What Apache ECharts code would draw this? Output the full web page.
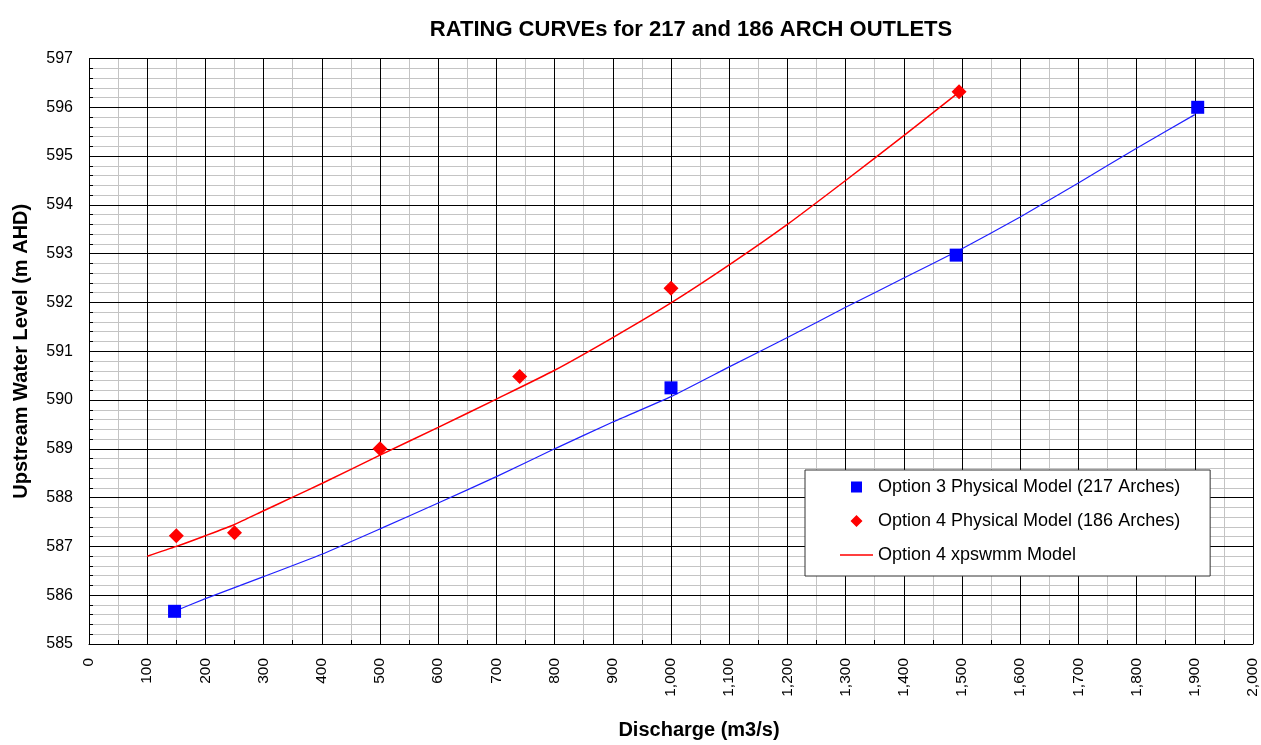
<!DOCTYPE html>
<html>
<head>
<meta charset="utf-8">
<script src="https://cdn.jsdelivr.net/npm/echarts@6/dist/echarts.min.js"></script>
<style>
html,body{margin:0;padding:0;background:#fff;}
#chart{width:1261px;height:745px;}
</style>
</head>
<body>
<div id="chart"></div>
<script>
// ---- data ----
const titleText = 'RATING CURVEs for 217 and 186 ARCH OUTLETS';
const xName = 'Discharge (m3/s)';
const yName = 'Upstream Water Level (m AHD)';
const seriesNames = ['Option 3 Physical Model (217 Arches)', 'Option 4 Physical Model (186 Arches)', 'Option 4 xpswmm Model'];

// Option 3 physical model (blue squares)
const opt3X = [147, 1000, 1490, 1905];
const opt3Y = [585.67, 590.25, 592.97, 596.0];
// Option 3 curve (blue line, not in legend)
const opt3LineX = [147, 200, 300, 400, 500, 600, 700, 800, 900, 1000, 1100, 1200, 1300, 1400, 1500, 1600, 1700, 1800, 1900];
const opt3LineY = [585.67, 585.93, 586.38, 586.84, 587.36, 587.89, 588.43, 589.0, 589.55, 590.07, 590.68, 591.28, 591.9, 592.5, 593.1, 593.75, 594.45, 595.16, 595.85];
// Option 4 physical model (red diamonds)
const opt4X = [150, 250, 500, 740, 1000, 1495];
const opt4Y = [587.22, 587.28, 589.0, 590.48, 592.29, 596.32];
// Option 4 xpswmm model (red line)
const xpX = [100, 150, 200, 250, 300, 350, 400, 500, 600, 700, 800, 900, 1000, 1100, 1200, 1300, 1400, 1495];
const xpY = [586.8, 587.0, 587.22, 587.45, 587.73, 588.01, 588.29, 588.87, 589.44, 590.02, 590.61, 591.28, 591.99, 592.77, 593.6, 594.5, 595.42, 596.31];

// axis ranges / ticks
const xMin = 0, xMax = 2000, xStep = 100;
const yMin = 585, yMax = 597, yStep = 1;

const pairs = (xs, ys) => xs.map((x, i) => [x, ys[i]]);
const FONT = 'Liberation Sans, Arial, sans-serif';
const fmtX = v => String(v).replace(/\B(?=(\d{3})+(?!\d))/g, ',');

// legend icons: tiny degenerate corner marks fix the 33x12 icon box, so shapes keep their size
const BOX = 'M0,0L0.01,0L0,0.01Z M33,12L32.99,12L33,11.99Z ';
const squareIcon = 'path://' + BOX + 'M11,0.5L22,0.5L22,11.5L11,11.5Z';
const diamondIcon = 'path://' + BOX + 'M16.5,0L22.5,6L16.5,12L10.5,6Z';
const lineIcon = 'path://' + BOX + 'M0,5.3L33,5.3L33,6.8L0,6.8Z';

const chart = echarts.init(document.getElementById('chart'), null, {renderer: 'canvas'});

chart.setOption({
  backgroundColor: '#ffffff',
  animation: false,
  textStyle: {fontFamily: FONT},
  title: {
    text: titleText,
    left: 686, top: 14, textAlign: 'center',
    textStyle: {fontFamily: FONT, fontSize: 22, fontWeight: 'bold', color: '#000'}
  },
  legend: {
    orient: 'vertical',
    left: 805, top: 470,
    padding: [8, 30, 12, 35],
    itemGap: 16,
    itemWidth: 33, itemHeight: 12,
    backgroundColor: '#fff',
    borderColor: '#333', borderWidth: 1, borderRadius: 0,
    textStyle: {fontFamily: FONT, fontSize: 18, color: '#000'},
    data: [
      {name: seriesNames[0], icon: squareIcon, itemStyle: {color: '#0000ff'}},
      {name: seriesNames[1], icon: diamondIcon, itemStyle: {color: '#ff0000'}},
      {name: seriesNames[2], icon: lineIcon, itemStyle: {color: '#ff0000'}}
    ]
  },
  grid: {left: 89, right: 6, top: 58.5, bottom: 96.5, containLabel: false},
  xAxis: [{
    type: 'value', min: xMin, max: xMax, interval: xStep, z: 1,
    name: xName, nameLocation: 'middle', nameGap: 76,
    nameTextStyle: {fontFamily: FONT, fontSize: 20, fontWeight: 'bold', color: '#000', padding: [0, 0, 0, 56]},
    axisLine: {show: true, lineStyle: {color: '#000', width: 1}},
    axisTick: {show: false, inside: true},
    minorTick: {show: true, splitNumber: 2, length: 4, lineStyle: {color: '#000', width: 1}},
    axisLabel: {rotate: 90, margin: 14, fontSize: 15.5, color: '#000', fontFamily: FONT, formatter: fmtX},
    splitLine: {show: true, lineStyle: {color: '#000', width: 1}},
    minorSplitLine: {show: false}
  }, {
    type: 'value', min: xMin, max: xMax, interval: xStep, z: 0, position: 'top',
    axisLine: {show: false}, axisTick: {show: false}, axisLabel: {show: false},
    splitLine: {show: false},
    minorTick: {show: false, splitNumber: 2},
    minorSplitLine: {show: true, lineStyle: {color: '#c4c4c4', width: 1}}
  }],
  yAxis: [{
    type: 'value', min: yMin, max: yMax, interval: yStep, z: 1,
    name: yName, nameLocation: 'middle', nameGap: 58, nameRotate: 90,
    nameTextStyle: {fontFamily: FONT, fontSize: 20, fontWeight: 'bold', color: '#000'},
    axisLine: {show: true, lineStyle: {color: '#000', width: 1}},
    axisTick: {show: false, inside: true},
    minorTick: {show: true, splitNumber: 5, length: 4, lineStyle: {color: '#000', width: 1}},
    axisLabel: {margin: 16, fontSize: 16, color: '#000', fontFamily: FONT},
    splitLine: {show: true, lineStyle: {color: '#000', width: 1}},
    minorSplitLine: {show: false}
  }, {
    type: 'value', min: yMin, max: yMax, interval: yStep, z: 0, position: 'right',
    axisLine: {show: false}, axisTick: {show: false}, axisLabel: {show: false},
    splitLine: {show: false},
    minorTick: {show: false, splitNumber: 5},
    minorSplitLine: {show: true, lineStyle: {color: '#c4c4c4', width: 1}}
  }],
  series: [
    {
      name: 'Option 3 curve', type: 'line', data: pairs(opt3LineX, opt3LineY),
      smooth: 0.15, symbol: 'none', lineStyle: {color: '#2020ff', width: 1.2}, z: 3
    },
    {
      name: seriesNames[2], type: 'line', data: pairs(xpX, xpY),
      smooth: 0.2, symbol: 'none', itemStyle: {color: '#ff0000'}, lineStyle: {color: '#ff0000', width: 1.5}, z: 3
    },
    {
      name: seriesNames[0], type: 'scatter', data: pairs(opt3X, opt3Y),
      symbol: 'rect', symbolSize: 13, itemStyle: {color: '#0000ff', opacity: 1}, z: 4
    },
    {
      name: seriesNames[1], type: 'scatter', data: pairs(opt4X, opt4Y),
      symbol: 'diamond', symbolSize: 15, itemStyle: {color: '#ff0000', opacity: 1}, z: 4
    }
  ]
});
</script>
</body>
</html>
